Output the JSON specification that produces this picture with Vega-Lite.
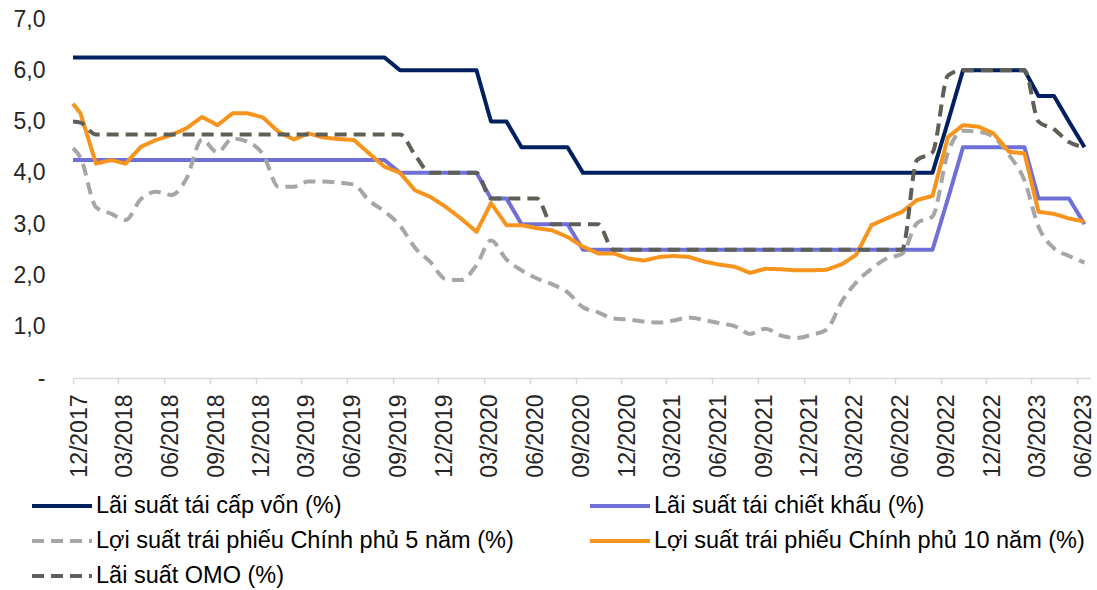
{
"$schema":"https://vega.github.io/schema/vega-lite/v6.json",
"width":1017,"height":359,
"autosize":{"type":"none"},
"padding":{"left":73,"top":19,"right":7,"bottom":212},
"background":"white",
"config":{"view":{"stroke":null},"font":"Liberation Sans"},
"data":{"values":[
{"d":"2017-12-01","s":"A","v":6.25},{"d":"2017-12-16","s":"A","v":6.25},{"d":"2018-01-16","s":"A","v":6.25},{"d":"2018-02-16","s":"A","v":6.25},{"d":"2018-03-16","s":"A","v":6.25},{"d":"2018-04-16","s":"A","v":6.25},{"d":"2018-05-16","s":"A","v":6.25},{"d":"2018-06-16","s":"A","v":6.25},{"d":"2018-07-16","s":"A","v":6.25},{"d":"2018-08-16","s":"A","v":6.25},{"d":"2018-09-16","s":"A","v":6.25},{"d":"2018-10-16","s":"A","v":6.25},{"d":"2018-11-16","s":"A","v":6.25},{"d":"2018-12-16","s":"A","v":6.25},{"d":"2019-01-16","s":"A","v":6.25},{"d":"2019-02-16","s":"A","v":6.25},{"d":"2019-03-16","s":"A","v":6.25},{"d":"2019-04-16","s":"A","v":6.25},{"d":"2019-05-16","s":"A","v":6.25},{"d":"2019-06-16","s":"A","v":6.25},{"d":"2019-07-16","s":"A","v":6.25},{"d":"2019-08-16","s":"A","v":6.25},{"d":"2019-09-16","s":"A","v":6},{"d":"2019-10-16","s":"A","v":6},{"d":"2019-11-16","s":"A","v":6},{"d":"2019-12-16","s":"A","v":6},{"d":"2020-01-16","s":"A","v":6},{"d":"2020-02-16","s":"A","v":6},{"d":"2020-03-16","s":"A","v":5},{"d":"2020-04-16","s":"A","v":5},{"d":"2020-05-16","s":"A","v":4.5},{"d":"2020-06-16","s":"A","v":4.5},{"d":"2020-07-16","s":"A","v":4.5},{"d":"2020-08-16","s":"A","v":4.5},{"d":"2020-09-16","s":"A","v":4},{"d":"2020-10-16","s":"A","v":4},{"d":"2020-11-16","s":"A","v":4},{"d":"2020-12-16","s":"A","v":4},{"d":"2021-01-16","s":"A","v":4},{"d":"2021-02-16","s":"A","v":4},{"d":"2021-03-16","s":"A","v":4},{"d":"2021-04-16","s":"A","v":4},{"d":"2021-05-16","s":"A","v":4},{"d":"2021-06-16","s":"A","v":4},{"d":"2021-07-16","s":"A","v":4},{"d":"2021-08-16","s":"A","v":4},{"d":"2021-09-16","s":"A","v":4},{"d":"2021-10-16","s":"A","v":4},{"d":"2021-11-16","s":"A","v":4},{"d":"2021-12-16","s":"A","v":4},{"d":"2022-01-16","s":"A","v":4},{"d":"2022-02-16","s":"A","v":4},{"d":"2022-03-16","s":"A","v":4},{"d":"2022-04-16","s":"A","v":4},{"d":"2022-05-16","s":"A","v":4},{"d":"2022-06-16","s":"A","v":4},{"d":"2022-07-16","s":"A","v":4},{"d":"2022-08-16","s":"A","v":4},{"d":"2022-09-16","s":"A","v":5},{"d":"2022-10-16","s":"A","v":6},{"d":"2022-11-16","s":"A","v":6},{"d":"2022-12-16","s":"A","v":6},{"d":"2023-01-16","s":"A","v":6},{"d":"2023-02-16","s":"A","v":6},{"d":"2023-03-16","s":"A","v":5.5},{"d":"2023-04-16","s":"A","v":5.5},{"d":"2023-05-16","s":"A","v":5},{"d":"2023-06-16","s":"A","v":4.5},
{"d":"2017-12-01","s":"B","v":4.25},{"d":"2017-12-16","s":"B","v":4.25},{"d":"2018-01-16","s":"B","v":4.25},{"d":"2018-02-16","s":"B","v":4.25},{"d":"2018-03-16","s":"B","v":4.25},{"d":"2018-04-16","s":"B","v":4.25},{"d":"2018-05-16","s":"B","v":4.25},{"d":"2018-06-16","s":"B","v":4.25},{"d":"2018-07-16","s":"B","v":4.25},{"d":"2018-08-16","s":"B","v":4.25},{"d":"2018-09-16","s":"B","v":4.25},{"d":"2018-10-16","s":"B","v":4.25},{"d":"2018-11-16","s":"B","v":4.25},{"d":"2018-12-16","s":"B","v":4.25},{"d":"2019-01-16","s":"B","v":4.25},{"d":"2019-02-16","s":"B","v":4.25},{"d":"2019-03-16","s":"B","v":4.25},{"d":"2019-04-16","s":"B","v":4.25},{"d":"2019-05-16","s":"B","v":4.25},{"d":"2019-06-16","s":"B","v":4.25},{"d":"2019-07-16","s":"B","v":4.25},{"d":"2019-08-16","s":"B","v":4.25},{"d":"2019-09-16","s":"B","v":4},{"d":"2019-10-16","s":"B","v":4},{"d":"2019-11-16","s":"B","v":4},{"d":"2019-12-16","s":"B","v":4},{"d":"2020-01-16","s":"B","v":4},{"d":"2020-02-16","s":"B","v":4},{"d":"2020-03-16","s":"B","v":3.5},{"d":"2020-04-16","s":"B","v":3.5},{"d":"2020-05-16","s":"B","v":3},{"d":"2020-06-16","s":"B","v":3},{"d":"2020-07-16","s":"B","v":3},{"d":"2020-08-16","s":"B","v":3},{"d":"2020-09-16","s":"B","v":2.5},{"d":"2020-10-16","s":"B","v":2.5},{"d":"2020-11-16","s":"B","v":2.5},{"d":"2020-12-16","s":"B","v":2.5},{"d":"2021-01-16","s":"B","v":2.5},{"d":"2021-02-16","s":"B","v":2.5},{"d":"2021-03-16","s":"B","v":2.5},{"d":"2021-04-16","s":"B","v":2.5},{"d":"2021-05-16","s":"B","v":2.5},{"d":"2021-06-16","s":"B","v":2.5},{"d":"2021-07-16","s":"B","v":2.5},{"d":"2021-08-16","s":"B","v":2.5},{"d":"2021-09-16","s":"B","v":2.5},{"d":"2021-10-16","s":"B","v":2.5},{"d":"2021-11-16","s":"B","v":2.5},{"d":"2021-12-16","s":"B","v":2.5},{"d":"2022-01-16","s":"B","v":2.5},{"d":"2022-02-16","s":"B","v":2.5},{"d":"2022-03-16","s":"B","v":2.5},{"d":"2022-04-16","s":"B","v":2.5},{"d":"2022-05-16","s":"B","v":2.5},{"d":"2022-06-16","s":"B","v":2.5},{"d":"2022-07-16","s":"B","v":2.5},{"d":"2022-08-16","s":"B","v":2.5},{"d":"2022-09-16","s":"B","v":3.5},{"d":"2022-10-16","s":"B","v":4.5},{"d":"2022-11-16","s":"B","v":4.5},{"d":"2022-12-16","s":"B","v":4.5},{"d":"2023-01-16","s":"B","v":4.5},{"d":"2023-02-16","s":"B","v":4.5},{"d":"2023-03-16","s":"B","v":3.5},{"d":"2023-04-16","s":"B","v":3.5},{"d":"2023-05-16","s":"B","v":3.5},{"d":"2023-06-16","s":"B","v":3},
{"d":"2017-12-01","s":"C","v":4.48},{"d":"2017-12-16","s":"C","v":4.3},{"d":"2018-01-16","s":"C","v":3.33},{"d":"2018-02-16","s":"C","v":3.2},{"d":"2018-03-16","s":"C","v":3.08},{"d":"2018-04-16","s":"C","v":3.49},{"d":"2018-05-16","s":"C","v":3.63},{"d":"2018-06-16","s":"C","v":3.57},{"d":"2018-07-16","s":"C","v":3.89},{"d":"2018-08-16","s":"C","v":4.65},{"d":"2018-09-16","s":"C","v":4.4},{"d":"2018-10-16","s":"C","v":4.67},{"d":"2018-11-16","s":"C","v":4.6},{"d":"2018-12-16","s":"C","v":4.36},{"d":"2019-01-16","s":"C","v":3.73},{"d":"2019-02-16","s":"C","v":3.73},{"d":"2019-03-16","s":"C","v":3.83},{"d":"2019-04-16","s":"C","v":3.83},{"d":"2019-05-16","s":"C","v":3.81},{"d":"2019-06-16","s":"C","v":3.77},{"d":"2019-07-16","s":"C","v":3.46},{"d":"2019-08-16","s":"C","v":3.25},{"d":"2019-09-16","s":"C","v":2.97},{"d":"2019-10-16","s":"C","v":2.54},{"d":"2019-11-16","s":"C","v":2.26},{"d":"2019-12-16","s":"C","v":1.93},{"d":"2020-01-16","s":"C","v":1.91},{"d":"2020-02-16","s":"C","v":2.2},{"d":"2020-03-16","s":"C","v":2.68},{"d":"2020-04-16","s":"C","v":2.31},{"d":"2020-05-16","s":"C","v":2.1},{"d":"2020-06-16","s":"C","v":1.94},{"d":"2020-07-16","s":"C","v":1.83},{"d":"2020-08-16","s":"C","v":1.67},{"d":"2020-09-16","s":"C","v":1.38},{"d":"2020-10-16","s":"C","v":1.28},{"d":"2020-11-16","s":"C","v":1.16},{"d":"2020-12-16","s":"C","v":1.14},{"d":"2021-01-16","s":"C","v":1.1},{"d":"2021-02-16","s":"C","v":1.08},{"d":"2021-03-16","s":"C","v":1.12},{"d":"2021-04-16","s":"C","v":1.18},{"d":"2021-05-16","s":"C","v":1.13},{"d":"2021-06-16","s":"C","v":1.07},{"d":"2021-07-16","s":"C","v":1.01},{"d":"2021-08-16","s":"C","v":0.86},{"d":"2021-09-16","s":"C","v":0.96},{"d":"2021-10-16","s":"C","v":0.83},{"d":"2021-11-16","s":"C","v":0.78},{"d":"2021-12-16","s":"C","v":0.84},{"d":"2022-01-16","s":"C","v":0.94},{"d":"2022-02-16","s":"C","v":1.5},{"d":"2022-03-16","s":"C","v":1.86},{"d":"2022-04-16","s":"C","v":2.13},{"d":"2022-05-16","s":"C","v":2.33},{"d":"2022-06-16","s":"C","v":2.42},{"d":"2022-07-16","s":"C","v":3.02},{"d":"2022-08-16","s":"C","v":3.15},{"d":"2022-09-16","s":"C","v":4.4},{"d":"2022-10-16","s":"C","v":4.82},{"d":"2022-11-16","s":"C","v":4.8},{"d":"2022-12-16","s":"C","v":4.7},{"d":"2023-01-16","s":"C","v":4.35},{"d":"2023-02-16","s":"C","v":3.85},{"d":"2023-03-16","s":"C","v":2.95},{"d":"2023-04-16","s":"C","v":2.53},{"d":"2023-05-16","s":"C","v":2.38},{"d":"2023-06-16","s":"C","v":2.25},
{"d":"2017-12-01","s":"E","v":5.35},{"d":"2017-12-16","s":"E","v":5.16},{"d":"2018-01-16","s":"E","v":4.18},{"d":"2018-02-16","s":"E","v":4.25},{"d":"2018-03-16","s":"E","v":4.18},{"d":"2018-04-16","s":"E","v":4.51},{"d":"2018-05-16","s":"E","v":4.64},{"d":"2018-06-16","s":"E","v":4.74},{"d":"2018-07-16","s":"E","v":4.87},{"d":"2018-08-16","s":"E","v":5.09},{"d":"2018-09-16","s":"E","v":4.93},{"d":"2018-10-16","s":"E","v":5.16},{"d":"2018-11-16","s":"E","v":5.16},{"d":"2018-12-16","s":"E","v":5.08},{"d":"2019-01-16","s":"E","v":4.8},{"d":"2019-02-16","s":"E","v":4.65},{"d":"2019-03-16","s":"E","v":4.77},{"d":"2019-04-16","s":"E","v":4.69},{"d":"2019-05-16","s":"E","v":4.66},{"d":"2019-06-16","s":"E","v":4.64},{"d":"2019-07-16","s":"E","v":4.38},{"d":"2019-08-16","s":"E","v":4.12},{"d":"2019-09-16","s":"E","v":4.0},{"d":"2019-10-16","s":"E","v":3.66},{"d":"2019-11-16","s":"E","v":3.53},{"d":"2019-12-16","s":"E","v":3.34},{"d":"2020-01-16","s":"E","v":3.11},{"d":"2020-02-16","s":"E","v":2.85},{"d":"2020-03-16","s":"E","v":3.41},{"d":"2020-04-16","s":"E","v":2.98},{"d":"2020-05-16","s":"E","v":2.98},{"d":"2020-06-16","s":"E","v":2.92},{"d":"2020-07-16","s":"E","v":2.88},{"d":"2020-08-16","s":"E","v":2.75},{"d":"2020-09-16","s":"E","v":2.56},{"d":"2020-10-16","s":"E","v":2.43},{"d":"2020-11-16","s":"E","v":2.43},{"d":"2020-12-16","s":"E","v":2.33},{"d":"2021-01-16","s":"E","v":2.29},{"d":"2021-02-16","s":"E","v":2.36},{"d":"2021-03-16","s":"E","v":2.38},{"d":"2021-04-16","s":"E","v":2.36},{"d":"2021-05-16","s":"E","v":2.27},{"d":"2021-06-16","s":"E","v":2.21},{"d":"2021-07-16","s":"E","v":2.17},{"d":"2021-08-16","s":"E","v":2.05},{"d":"2021-09-16","s":"E","v":2.13},{"d":"2021-10-16","s":"E","v":2.12},{"d":"2021-11-16","s":"E","v":2.1},{"d":"2021-12-16","s":"E","v":2.1},{"d":"2022-01-16","s":"E","v":2.11},{"d":"2022-02-16","s":"E","v":2.22},{"d":"2022-03-16","s":"E","v":2.4},{"d":"2022-04-16","s":"E","v":2.98},{"d":"2022-05-16","s":"E","v":3.11},{"d":"2022-06-16","s":"E","v":3.24},{"d":"2022-07-16","s":"E","v":3.47},{"d":"2022-08-16","s":"E","v":3.55},{"d":"2022-09-16","s":"E","v":4.7},{"d":"2022-10-16","s":"E","v":4.93},{"d":"2022-11-16","s":"E","v":4.9},{"d":"2022-12-16","s":"E","v":4.77},{"d":"2023-01-16","s":"E","v":4.41},{"d":"2023-02-16","s":"E","v":4.38},{"d":"2023-03-16","s":"E","v":3.24},{"d":"2023-04-16","s":"E","v":3.2},{"d":"2023-05-16","s":"E","v":3.11},{"d":"2023-06-16","s":"E","v":3.05},
{"d":"2017-12-01","s":"D","v":5.0},{"d":"2017-12-16","s":"D","v":4.98},{"d":"2018-01-16","s":"D","v":4.75},{"d":"2018-02-16","s":"D","v":4.75},{"d":"2018-03-16","s":"D","v":4.75},{"d":"2018-04-16","s":"D","v":4.75},{"d":"2018-05-16","s":"D","v":4.75},{"d":"2018-06-16","s":"D","v":4.75},{"d":"2018-07-16","s":"D","v":4.75},{"d":"2018-08-16","s":"D","v":4.75},{"d":"2018-09-16","s":"D","v":4.75},{"d":"2018-10-16","s":"D","v":4.75},{"d":"2018-11-16","s":"D","v":4.75},{"d":"2018-12-16","s":"D","v":4.75},{"d":"2019-01-16","s":"D","v":4.75},{"d":"2019-02-16","s":"D","v":4.75},{"d":"2019-03-16","s":"D","v":4.75},{"d":"2019-04-16","s":"D","v":4.75},{"d":"2019-05-16","s":"D","v":4.75},{"d":"2019-06-16","s":"D","v":4.75},{"d":"2019-07-16","s":"D","v":4.75},{"d":"2019-08-16","s":"D","v":4.75},{"d":"2019-09-16","s":"D","v":4.75},{"d":"2019-10-16","s":"D","v":4.35},{"d":"2019-11-16","s":"D","v":4},{"d":"2019-12-16","s":"D","v":4},{"d":"2020-01-16","s":"D","v":4},{"d":"2020-02-16","s":"D","v":4},{"d":"2020-03-16","s":"D","v":3.5},{"d":"2020-04-16","s":"D","v":3.5},{"d":"2020-05-16","s":"D","v":3.5},{"d":"2020-06-16","s":"D","v":3.5},{"d":"2020-07-16","s":"D","v":3},{"d":"2020-08-16","s":"D","v":3},{"d":"2020-09-16","s":"D","v":3},{"d":"2020-10-16","s":"D","v":3},{"d":"2020-11-16","s":"D","v":2.5},{"d":"2020-12-16","s":"D","v":2.5},{"d":"2021-01-16","s":"D","v":2.5},{"d":"2021-02-16","s":"D","v":2.5},{"d":"2021-03-16","s":"D","v":2.5},{"d":"2021-04-16","s":"D","v":2.5},{"d":"2021-05-16","s":"D","v":2.5},{"d":"2021-06-16","s":"D","v":2.5},{"d":"2021-07-16","s":"D","v":2.5},{"d":"2021-08-16","s":"D","v":2.5},{"d":"2021-09-16","s":"D","v":2.5},{"d":"2021-10-16","s":"D","v":2.5},{"d":"2021-11-16","s":"D","v":2.5},{"d":"2021-12-16","s":"D","v":2.5},{"d":"2022-01-16","s":"D","v":2.5},{"d":"2022-02-16","s":"D","v":2.5},{"d":"2022-03-16","s":"D","v":2.5},{"d":"2022-04-16","s":"D","v":2.5},{"d":"2022-05-16","s":"D","v":2.5},{"d":"2022-06-16","s":"D","v":2.5},{"d":"2022-07-16","s":"D","v":4.25},{"d":"2022-08-16","s":"D","v":4.4},{"d":"2022-09-16","s":"D","v":5.9},{"d":"2022-10-16","s":"D","v":6},{"d":"2022-11-16","s":"D","v":6},{"d":"2022-12-16","s":"D","v":6},{"d":"2023-01-16","s":"D","v":6},{"d":"2023-02-16","s":"D","v":6},{"d":"2023-03-16","s":"D","v":5},{"d":"2023-04-16","s":"D","v":4.85},{"d":"2023-05-16","s":"D","v":4.6},{"d":"2023-06-16","s":"D","v":4.5}
]},
"encoding":{
"x":{"field":"d","type":"temporal","scale":{"type":"utc","domain":[{"year":2017,"month":12,"date":1,"utc":true},{"year":2023,"month":6,"date":27,"utc":true}]},
"axis":{"title":null,"grid":false,"values":[{"year":2017,"month":12,"date":1,"utc":true},{"year":2018,"month":3,"date":1,"utc":true},{"year":2018,"month":6,"date":1,"utc":true},{"year":2018,"month":9,"date":1,"utc":true},{"year":2018,"month":12,"date":1,"utc":true},{"year":2019,"month":3,"date":1,"utc":true},{"year":2019,"month":6,"date":1,"utc":true},{"year":2019,"month":9,"date":1,"utc":true},{"year":2019,"month":12,"date":1,"utc":true},{"year":2020,"month":3,"date":1,"utc":true},{"year":2020,"month":6,"date":1,"utc":true},{"year":2020,"month":9,"date":1,"utc":true},{"year":2020,"month":12,"date":1,"utc":true},{"year":2021,"month":3,"date":1,"utc":true},{"year":2021,"month":6,"date":1,"utc":true},{"year":2021,"month":9,"date":1,"utc":true},{"year":2021,"month":12,"date":1,"utc":true},{"year":2022,"month":3,"date":1,"utc":true},{"year":2022,"month":6,"date":1,"utc":true},{"year":2022,"month":9,"date":1,"utc":true},{"year":2022,"month":12,"date":1,"utc":true},{"year":2023,"month":3,"date":1,"utc":true},{"year":2023,"month":6,"date":1,"utc":true}],
"labelExpr":"utcFormat(datum.value,'%m/%Y')","labelAngle":270,"labelFontSize":23,"labelColor":"#262626","labelOffset":6,"labelPadding":10,"labelFlush":false,"labelOverlap":false,"labelBound":false,"tickSize":6,"tickColor":"#D9D9D9","tickWidth":1.5,"domainColor":"#D9D9D9","domainWidth":1.5}},
"y":{"field":"v","type":"quantitative","scale":{"domain":[0,7],"nice":false,"zero":true},
"axis":{"title":null,"grid":false,"domain":false,"ticks":false,"values":[0,1,2,3,4,5,6,7],"labelExpr":"datum.value==0?'-':replace(format(datum.value,'.1f'),'.',',')","labelFontSize":23,"labelColor":"#262626","labelPadding":28,"labelFlush":false}},
"color":{"field":"s","type":"nominal","scale":{"domain":["A","C","D","B","E"],"range":["#002060","#A6A6A6","#5E5F57","#6F6FD8","#F7941D"]},
"legend":{"orient":"none","legendX":-43,"legendY":472,"columns":2,"title":null,"symbolType":"stroke","symbolSize":3600,"symbolStrokeWidth":4,"labelFontSize":23.5,"labelColor":"#000000","labelLimit":800,"labelOffset":2,"clipHeight":30,"rowPadding":5,"columnPadding":74,
"labelExpr":"{'A':'Lãi suất tái cấp vốn (%)','B':'Lãi suất tái chiết khấu (%)','C':'Lợi suất trái phiếu Chính phủ 5 năm (%)','E':'Lợi suất trái phiếu Chính phủ 10 năm (%)','D':'Lãi suất OMO (%)'}[datum.value]"}},
"strokeDash":{"field":"s","type":"nominal","scale":{"domain":["A","C","D","B","E"],"range":[[1,0],[12,7],[12,7],[1,0],[1,0]]},
"legend":{"orient":"none","legendX":-43,"legendY":472,"columns":2,"title":null,"symbolType":"stroke","symbolSize":3600,"symbolStrokeWidth":4,"labelFontSize":23.5,"labelColor":"#000000","labelLimit":800,"labelOffset":2,"clipHeight":30,"rowPadding":5,"columnPadding":74,
"labelExpr":"{'A':'Lãi suất tái cấp vốn (%)','B':'Lãi suất tái chiết khấu (%)','C':'Lợi suất trái phiếu Chính phủ 5 năm (%)','E':'Lợi suất trái phiếu Chính phủ 10 năm (%)','D':'Lãi suất OMO (%)'}[datum.value]"}}
},
"layer":[
{"transform":[{"filter":"datum.s=='A'||datum.s=='B'"}],"mark":{"type":"line","strokeWidth":4,"strokeJoin":"round"}},
{"transform":[{"filter":"datum.s=='C'"}],"mark":{"type":"line","strokeWidth":4,"interpolate":"monotone"}},
{"transform":[{"filter":"datum.s=='E'"}],"mark":{"type":"line","strokeWidth":4,"strokeJoin":"round"}},
{"transform":[{"filter":"datum.s=='D'"}],"mark":{"type":"line","strokeWidth":4,"interpolate":"monotone"}}
]
}
